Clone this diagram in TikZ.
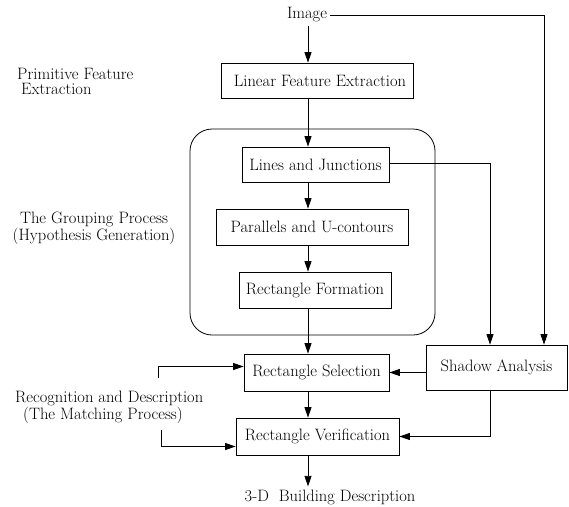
\documentclass[tikz,border=0pt]{standalone}
\usetikzlibrary{arrows.meta}
\begin{document}
\begin{tikzpicture}[x=1pt,y=-1pt,
  every node/.style={font=\fontsize{16.5}{15}\selectfont, inner sep=0pt},
  box/.style={draw, line width=0.8pt, minimum height=36pt},
  lbl/.style={align=left, anchor=west},
  conn/.style={line width=0.8pt},
  arr/.style={conn, -{Triangle[length=10.5pt,width=7pt]}}]
\useasboundingbox (0,0) rectangle (569,506);
\coordinate (col) at (308,0);
% nodes
\node[inner sep=3pt] (img) at (307,15) {Image};
\node[box, minimum width=192pt, minimum height=35pt] (lfe) at (317,80.5) {\hspace{6pt}Linear Feature Extraction};
\node[draw, line width=0.8pt, rounded corners=22pt, minimum width=245pt, minimum height=206pt] (grp) at (312.5,232) {};
\node[box, minimum width=147pt, minimum height=35pt] (lj) at (315.5,164.5) {Lines and Junctions};
\node[box, minimum width=192pt] (par) at (312,227) {Parallels and U-contours};
\node[box, minimum width=152pt] (rf) at (315,290) {Rectangle Formation};
\node[box, minimum width=145pt, minimum height=37pt] (rs) at (316.5,372.5) {Rectangle Selection};
\node[box, minimum width=141pt, minimum height=45pt] (sa) at (496.5,367.5) {Shadow Analysis};
\node[box, minimum width=163pt, minimum height=37pt] (rv) at (317.5,436.5) {Rectangle Verification};
\node (out) at (330,497) {3-D\ \ Building Description};
% side labels
\node[lbl] (prim) at (17,81.5) {Primitive Feature\\\hspace{4pt}Extraction};
\node[align=center] (grpl) at (94,228.5) {The Grouping Process\\(Hypothesis Generation)};
\node[lbl] (recog) at (15,407.5) {Recognition and Description\\\hspace{8pt}(The Matching Process)};
\coordinate (b1) at (158,378);
\coordinate (b2) at (161,430);
% connectors
\draw[arr] (img.south -| col) -- (lfe.north -| col);
\draw[arr] (lfe.south -| col) -- (lj.north -| col);
\draw[arr] (lj.south -| col) -- (par.north -| col);
\draw[arr] (par.south -| col) -- (rf.north -| col);
\draw[arr] (rf.south -| col) -- (rs.north -| col);
\draw[arr] (rs.south -| col) -- (rv.north -| col);
\draw[arr] (rv.south -| col) -- ([yshift=3pt]out.north -| col);
\draw[arr] (img.east) -| ([xshift=47.5pt]sa.north);
\draw[arr] ([yshift=1.5pt]lj.east) -| ([xshift=-6.5pt]sa.north);
\draw[arr] (sa.west |- rs.east) -- (rs.east);
\draw[arr] ([xshift=-6.5pt]sa.south) |- (rv.east);
\draw[arr] (b1) |- ([yshift=6pt]rs.west);
\draw[arr] (b2) |- ([yshift=-10pt]rv.west);
\end{tikzpicture}
\end{document}
